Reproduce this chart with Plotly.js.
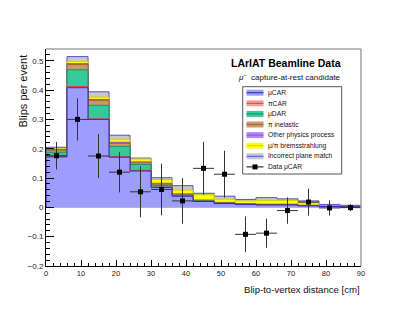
<!DOCTYPE html>
<html><head><meta charset="utf-8">
<script src="https://cdn.plot.ly/plotly-3.0.1.min.js"></script>
<style>html,body{margin:0;padding:0;background:#fff}#chart{width:407px;height:315px}</style>
</head><body><div id="chart"></div>
<script>
// ---- data ----
const binEdges = [0,6,12,18,24,30,36,42,48,54,60,66,72,78,84,90];
const seriesNames = ['μCAR','πCAR','μDAR','π inelastic','Other physics process','μ/π bremsstrahlung','Incorrect plane match'];
const muCAR      = [0.172,0.408,0.300,0.171,0.124,0.068,0.038,0.020,0.013,0.010,0.008,0.008,0.005,0.003,0.002];
const piCAR      = [0.003,0.004,0.002,0.002,0.002,0.001,0.001,0.000,0.000,0.000,0.000,0.000,0.000,0.000,0.000];
const muDAR      = [0.013,0.057,0.046,0.035,0.020,0.006,0.002,0.002,0.001,0.000,0.000,0.000,0.000,0.000,0.000];
const piInel     = [0.007,0.018,0.016,0.010,0.006,0.004,0.002,0.001,0.001,0.001,0.001,0.001,0.000,0.000,0.000];
const otherPhys  = [0.002,0.003,0.004,0.004,0.003,0.003,0.003,0.002,0.002,0.002,0.002,0.002,0.002,0.001,0.000];
const brems      = [0.003,0.008,0.008,0.010,0.010,0.013,0.013,0.018,0.011,0.009,0.012,0.012,0.008,0.001,0.001];
const incorrect  = [0.005,0.016,0.018,0.014,0.003,0.006,0.015,0.005,0.010,0.005,0.010,0.006,0.007,0.005,0.004];
const dataName = 'Data μCAR';
const dataY   = [0.176,0.300,0.175,0.120,0.053,0.061,0.022,0.133,0.113,-0.092,-0.088,-0.011,0.018,-0.002,-0.001];
const dataErr = [0.047,0.072,0.075,0.069,0.087,0.088,0.078,0.090,0.080,0.061,0.050,0.045,0.046,0.026,0.012];
const xTitle = 'Blip-to-vertex distance [cm]';
const yTitle = 'Blips per event';
const title1 = 'LArIAT Beamline Data';
const title2 = '<i>μ</i><sup>−</sup>  capture-at-rest candidate';

// ---- styles ----
const fills = ['#9d9dff','#ff9c9c','#33cc99','#cc9966','#b584ff','#ffff00','#c8c8c8'];
const lines = ['#2b2bb0','#d04848','#1f8f66','#9a6a3a','#8a50d0','#d0d000','#5050c8'];
const FONT = 'Liberation Sans, Arial, Helvetica, sans-serif';

const series = [muCAR,piCAR,muDAR,piInel,otherPhys,brems,incorrect];
const nb = binEdges.length - 1;
const centers = [], halfW = [];
for (let i=0;i<nb;i++){ centers.push((binEdges[i]+binEdges[i+1])/2); halfW.push((binEdges[i+1]-binEdges[i])/2); }

// cumulative stacks
const cum = [];
series.forEach((s,k)=>{ cum.push(s.map((v,i)=> v + (k>0?cum[k-1][i]:0))); });

const traces = [];
for (let k=series.length-1;k>=0;k--){
  const x=[binEdges[0]], y=[0];
  for (let i=0;i<nb;i++){ x.push(binEdges[i]); y.push(cum[k][i]); }
  x.push(binEdges[nb]); y.push(cum[k][nb-1]);
  x.push(binEdges[nb]); y.push(0);
  traces.push({type:'scatter',mode:'lines',x:x,y:y,line:{shape:'hv',color:lines[k],width:1},
    fill:'tozeroy',fillcolor:fills[k],name:seriesNames[k],showlegend:false,hoverinfo:'skip'});
}
traces.push({type:'scatter',mode:'markers',x:centers,y:dataY,name:dataName,showlegend:false,
  marker:{symbol:'square',size:5,color:'#000'},
  error_y:{type:'data',array:dataErr,visible:true,thickness:1,width:0,color:'#333'},
  error_x:{type:'data',array:halfW,visible:true,thickness:1,width:0,color:'#333'}});

// pixel -> paper helpers
const L=46,R=46,T=49,B=49,W=407,H=315;
const pw=W-L-R, ph=H-T-B;
const px=v=>(v-L)/pw, py=v=>(H-B-v)/ph;

const shapes=[
  {type:'line',xref:'paper',yref:'paper',x0:0,x1:1,y0:1,y1:1,line:{color:'#a0a0a0',width:1.5}},
  {type:'line',xref:'paper',yref:'paper',x0:1,x1:1,y0:0,y1:1,line:{color:'#a0a0a0',width:1.5}},
  // legend box
  {type:'rect',xref:'paper',yref:'paper',x0:px(242.7),x1:px(341.7),y0:py(174),y1:py(86.7),fillcolor:'#fff',line:{color:'#555',width:1}}
];
const annotations=[];
const legNames = seriesNames.concat([dataName]);
legNames.forEach((nm,i)=>{
  const cy = 92.7 + i*10.6;
  if (i<seriesNames.length){
    shapes.push({type:'rect',xref:'paper',yref:'paper',x0:px(246.5),x1:px(263.5),y0:py(cy+3),y1:py(cy-3),fillcolor:fills[i],line:{width:0}});
    shapes.push({type:'line',xref:'paper',yref:'paper',x0:px(246.5),x1:px(263.5),y0:py(cy),y1:py(cy),line:{color:lines[i],width:1}});
  } else {
    shapes.push({type:'line',xref:'paper',yref:'paper',x0:px(246.5),x1:px(263.5),y0:py(cy),y1:py(cy),line:{color:'#000',width:1}});
    shapes.push({type:'rect',xref:'paper',yref:'paper',x0:px(252.5),x1:px(257.5),y0:py(cy+2.5),y1:py(cy-2.5),fillcolor:'#000',line:{width:0}});
  }
  annotations.push({xref:'paper',yref:'paper',x:px(266.5),y:py(cy),xanchor:'left',yanchor:'middle',showarrow:false,
    text:nm,font:{family:FONT,size:6.7,color:'#111'},borderpad:0});
});
annotations.push({xref:'paper',yref:'paper',x:px(342),y:py(62.7),xanchor:'right',yanchor:'middle',showarrow:false,
  text:'<b>'+title1+'</b>',font:{family:FONT,size:10.5,color:'#000'},borderpad:0});
annotations.push({xref:'paper',yref:'paper',x:px(342),y:py(76.7),xanchor:'right',yanchor:'middle',showarrow:false,
  text:title2,font:{family:FONT,size:8,color:'#111'},borderpad:0});
annotations.push({xref:'paper',yref:'paper',x:px(361),y:py(289),xanchor:'right',yanchor:'middle',showarrow:false,
  text:xTitle,font:{family:FONT,size:9.6,color:'#111'},borderpad:0});
annotations.push({xref:'paper',yref:'paper',x:px(22),y:py(90.5),xanchor:'center',yanchor:'middle',showarrow:false,textangle:-90,
  text:yTitle,font:{family:FONT,size:11,color:'#111'},borderpad:0});

const layout={
  width:W,height:H,margin:{l:L,r:R,t:T,b:B,pad:0},
  paper_bgcolor:'#fff',plot_bgcolor:'#fff',showlegend:false,
  font:{family:FONT,size:8,color:'#222'},
  xaxis:{range:[0,90],dtick:10,tick0:0,ticks:'inside',ticklen:6,tickwidth:1,tickcolor:'#000',
    showline:true,linecolor:'#000',linewidth:1,showgrid:false,zeroline:false,
    tickfont:{family:FONT,size:7.5,color:'#222'},
    minor:{dtick:2,ticks:'inside',ticklen:3,tickcolor:'#000',showgrid:false}},
  yaxis:{range:[-0.2,0.54],dtick:0.1,tick0:0,ticks:'inside',ticklen:8,tickwidth:1,tickcolor:'#000',
    showline:true,linecolor:'#000',linewidth:1,showgrid:false,zeroline:false,
    tickfont:{family:FONT,size:8,color:'#222'},
    minor:{dtick:0.02,ticks:'inside',ticklen:4,tickcolor:'#000',showgrid:false}},
  shapes:shapes,annotations:annotations
};
Plotly.newPlot('chart',traces,layout,{staticPlot:true,displayModeBar:false});
</script></body></html>
